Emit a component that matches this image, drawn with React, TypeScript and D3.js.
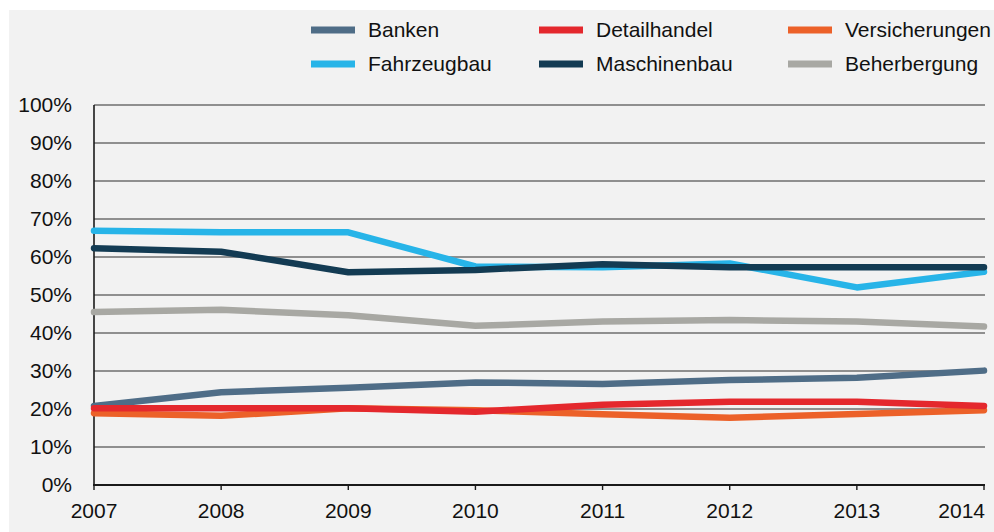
import React from "react";
import * as d3 from "d3";

const years = [2007, 2008, 2009, 2010, 2011, 2012, 2013, 2014];
const yTicks = [0, 10, 20, 30, 40, 50, 60, 70, 80, 90, 100];

const banken = [20.8, 24.4, 25.6, 27.0, 26.6, 27.6, 28.2, 30.1];
const fahrzeugbau = [66.9, 66.5, 66.5, 57.5, 57.3, 58.3, 52.0, 56.1];
const versicherungen = [18.9, 18.2, 20.2, 19.7, 18.6, 17.7, 18.7, 19.7];
const detailhandel = [20.2, 20.2, 20.2, 19.3, 21.1, 21.9, 21.9, 20.8];
const maschinenbau = [62.3, 61.4, 56.0, 56.6, 58.1, 57.3, 57.3, 57.3];
const beherbergung = [45.5, 46.1, 44.7, 41.9, 43.0, 43.4, 43.0, 41.7];

const seriesNames = ["Banken", "Fahrzeugbau", "Versicherungen", "Detailhandel", "Maschinenbau", "Beherbergung"];
const seriesValues = [banken, fahrzeugbau, versicherungen, detailhandel, maschinenbau, beherbergung];
const seriesColors = ["#4f6d87", "#27b4e8", "#ec6129", "#e4282d", "#133b53", "#a8a8a3"];

// legend layout order (rows x columns)
const legendOrder = [
  ["Banken", "Detailhandel", "Versicherungen"],
  ["Fahrzeugbau", "Maschinenbau", "Beherbergung"],
];

const W = 994;
const H = 532;
const FONT = "'Liberation Sans', Arial, Helvetica, sans-serif";

export default function App() {
  const x = d3.scalePoint<number>().domain(years).range([94, 984]);
  const y = d3.scaleLinear().domain([0, 100]).range([485, 105]);
  const line = d3
    .line<number>()
    .x((_, i) => x(years[i]) as number)
    .y((d) => y(d));

  const colorOf = (n: string) => seriesColors[seriesNames.indexOf(n)];
  const legendColX = [311, 539, 788];
  const legendRowY = [30, 64];

  return (
    <svg
      width={W}
      height={H}
      style={{ position: "fixed", left: 0, top: 0 }}
      fontFamily={FONT}
    >
      <rect x={0} y={0} width={W} height={H} fill="#ffffff" />
      <rect x={9} y={10} width={W - 9} height={H - 10} fill="#f2f2f2" />

      {/* legend */}
      {legendOrder.map((row, ri) =>
        row.map((name, ci) => (
          <g key={name}>
            <line
              x1={legendColX[ci]}
              x2={legendColX[ci] + 44}
              y1={legendRowY[ri]}
              y2={legendRowY[ri]}
              stroke={colorOf(name)}
              strokeWidth={7}
            />
            <text
              x={legendColX[ci] + 57}
              y={legendRowY[ri]}
              dy="0.35em"
              fontSize={21}
              fill="#111"
            >
              {name}
            </text>
          </g>
        ))
      )}

      {/* gridlines */}
      {yTicks.map((t) => (
        <line
          key={t}
          x1={94}
          x2={985}
          y1={y(t)}
          y2={y(t)}
          stroke="#6e6e6e"
          strokeWidth={1.4}
        />
      ))}

      {/* y labels */}
      {yTicks.map((t) => (
        <text
          key={"l" + t}
          x={72}
          y={y(t)}
          dy="0.35em"
          textAnchor="end"
          fontSize={21}
          fill="#111"
        >
          {t}%
        </text>
      ))}

      {/* y axis */}
      <line x1={94} x2={94} y1={y(100)} y2={y(0)} stroke="#1a1a1a" strokeWidth={1.6} />

      {/* lines */}
      {seriesValues.map((vals, i) => (
        <path
          key={seriesNames[i]}
          d={line(vals) || ""}
          fill="none"
          stroke={seriesColors[i]}
          strokeWidth={6.5}
          strokeLinecap="round"
          strokeLinejoin="round"
        />
      ))}

      {/* x axis */}
      <line x1={93} x2={985} y1={y(0)} y2={y(0)} stroke="#1a1a1a" strokeWidth={2.2} />
      {years.map((yr, i) => (
        <g key={yr}>
          <line
            x1={x(yr)}
            x2={x(yr)}
            y1={y(0)}
            y2={y(0) + 5}
            stroke="#1a1a1a"
            strokeWidth={1.4}
          />
          <text
            x={i === years.length - 1 ? (x(yr) as number) + 1 : (x(yr) as number)}
            y={511}
            dy="0.35em"
            textAnchor={i === years.length - 1 ? "end" : "middle"}
            fontSize={21}
            fill="#111"
          >
            {yr}
          </text>
        </g>
      ))}
    </svg>
  );
}
